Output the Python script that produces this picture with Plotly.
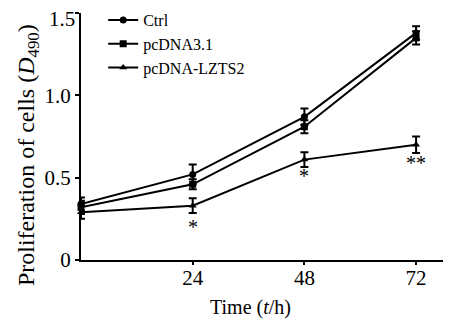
import plotly.graph_objects as go

time_h = [0, 24, 48, 72]
ctrl = [0.34, 0.52, 0.87, 1.38]
ctrl_err = [0.04, 0.06, 0.05, 0.04]
pcdna = [0.32, 0.46, 0.81, 1.35]
pcdna_err = [0.04, 0.03, 0.04, 0.04]
lzts2 = [0.29, 0.33, 0.61, 0.70]
lzts2_err = [0.04, 0.045, 0.045, 0.05]

sig_x = [24, 48, 72]
sig_y = [0.20, 0.51, 0.59]
sig_text = ["*", "*", "**"]

y_ticks = [0, 0.5, 1.0, 1.5]
y_ticktext = ["0", "0.5", "1.0", ""]
y_top_label = "1.5"

series = [
    ("Ctrl", ctrl, ctrl_err, "circle"),
    ("pcDNA3.1", pcdna, pcdna_err, "square"),
    ("pcDNA-LZTS2", lzts2, lzts2_err, "triangle-up"),
]

SERIF = '"Liberation Serif", "Times New Roman", serif'

fig = go.Figure()
for name, vals, errs, sym in series:
    fig.add_trace(go.Scatter(
        x=time_h, y=vals, name=name, mode="lines+markers",
        line=dict(color="black", width=2),
        marker=dict(symbol=sym, size=7, color="black"),
        error_y=dict(type="data", array=errs, color="black", thickness=2, width=4),
        cliponaxis=False,
    ))

for xv, yv, t in zip(sig_x, sig_y, sig_text):
    fig.add_annotation(x=xv, y=yv, text=t, showarrow=False,
                       font=dict(size=20, color="black", family=SERIF))

# top y tick label (kept inside the picture, as in the reference)
fig.add_annotation(x=0, xref="paper", y=y_ticks[-1], yref="y",
                   xanchor="right", yanchor="middle", xshift=-5, yshift=-6,
                   showarrow=False, text=y_top_label, borderpad=0,
                   font=dict(size=21, family=SERIF, color="black"))

# axis titles
fig.add_annotation(x=0.457, y=-0.194, xref="paper", yref="paper",
                   xanchor="center", yanchor="middle", showarrow=False,
                   text="Time (<i>t</i>/h)", font=dict(size=20, family=SERIF, color="black"))
fig.add_annotation(x=-0.143, y=0.425, xref="paper", yref="paper",
                   xanchor="center", yanchor="middle", showarrow=False, textangle=-90,
                   text="Proliferation of cells (<i>D</i><sub>490</sub>)",
                   font=dict(size=24, family=SERIF, color="black"))

fig.update_layout(
    width=443, height=314,
    margin=dict(l=73, r=0, t=5, b=62, autoexpand=False),
    paper_bgcolor="white", plot_bgcolor="white",
    font=dict(family=SERIF, color="black", size=21),
    showlegend=True,
    legend=dict(x=0.06, y=1.04, xanchor="left", yanchor="top",
                font=dict(size=16, family=SERIF), bgcolor="rgba(0,0,0,0)",
                itemwidth=30, tracegroupgap=0),
)
fig.update_xaxes(
    range=[0, 79.5], tickvals=sig_x, ticktext=["24", "48", "72"],
    showline=True, linecolor="black", linewidth=2, showgrid=False, zeroline=False,
    ticks="outside", ticklen=3, tickwidth=2, tickcolor="black",
    ticklabelstandoff=-5,
)
fig.update_yaxes(
    range=[0, 1.501], tickvals=y_ticks, ticktext=y_ticktext,
    showline=True, linecolor="black", linewidth=2, showgrid=False, zeroline=False,
    ticks="outside", ticklen=4, tickwidth=2, tickcolor="black",
)

fig.write_html("out.html")
